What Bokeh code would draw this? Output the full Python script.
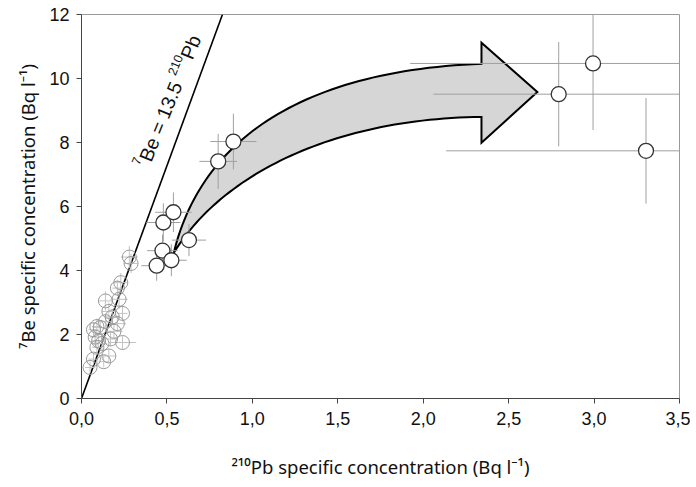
import math
import numpy as np
from bokeh.plotting import figure
from bokeh.models import Range1d, FixedTicker, Label, ColumnDataSource
from bokeh.embed import file_html
from bokeh.resources import INLINE

# ---- data ----
# small early samples (grey circles)
pb_cluster = [0.28, 0.29, 0.23, 0.21, 0.14, 0.22, 0.16, 0.24, 0.21, 0.09, 0.07, 0.11, 0.08,
              0.17, 0.24, 0.09, 0.16, 0.07, 0.05, 0.14, 0.19, 0.12, 0.10, 0.18, 0.13]
be_cluster = [4.42, 4.22, 3.62, 3.45, 3.05, 3.10, 2.72, 2.66, 2.34, 2.25, 2.15, 2.22, 1.92,
              1.86, 1.75, 1.60, 1.33, 1.23, 0.97, 2.40, 2.10, 1.72, 1.80, 2.55, 1.15]
pb_cluster_err = [0.05, 0.04, 0.04, 0.03, 0.04, 0.05, 0.04, 0.03, 0.05, 0.03, 0.03, 0.04, 0.03,
                  0.04, 0.08, 0.03, 0.04, 0.03, 0.03, 0.04, 0.05, 0.03, 0.04, 0.04, 0.03]
be_cluster_err = [0.35, 0.30, 0.30, 0.25, 0.30, 0.30, 0.28, 0.25, 0.25, 0.25, 0.22, 0.22, 0.20,
                  0.22, 0.20, 0.20, 0.20, 0.18, 0.18, 0.25, 0.22, 0.20, 0.20, 0.25, 0.18]

# later samples (black circles)
pb_main = [0.44, 0.474, 0.479, 0.526, 0.538, 0.629, 0.80, 0.889, 2.793, 2.994, 3.304]
be_main = [4.15, 4.62, 5.50, 4.32, 5.82, 4.95, 7.41, 8.03, 9.51, 10.47, 7.74]
pb_main_err = [0.09, 0.09, 0.10, 0.09, 0.107, 0.10, 0.11, 0.135, 0.733, 1.07, 1.17]
be_main_err = [0.47, 0.50, 0.60, 0.50, 0.62, 0.50, 0.86, 0.87, 1.63, 2.08, 1.65]

# reference line 7Be = 13.5 210Pb (as drawn)
ref_line_x = [0.0, 0.825]
ref_line_y = [0.0, 12.0]

x_ticks = [0.0, 0.5, 1.0, 1.5, 2.0, 2.5, 3.0, 3.5]
x_tick_labels = ["0,0", "0,5", "1,0", "1,5", "2,0", "2,5", "3,0", "3,5"]
y_ticks = [0, 2, 4, 6, 8, 10, 12]

x_title = "\u00b2\u00b9\u2070Pb specific concentration (Bq l\u207b\u00b9)"
y_title = "\u2077Be specific concentration (Bq l\u207b\u00b9)"

FONT = "Liberation Sans"
TITLE_FONT = "Noto Sans"
W, H = 690, 482
FS = 19.5      # main text size of the line label
SS = 12.5      # superscript size
RAISE = 7.5    # superscript raise

p = figure(width=W, height=H, output_backend="svg", toolbar_location=None,
           x_range=Range1d(0, 3.5), y_range=Range1d(0, 12),
           min_border_left=81, min_border_right=W - 679, min_border_top=14,
           min_border_bottom=H - 398)
p.grid.visible = False
p.outline_line_color = "#9a9a9a"
p.outline_line_width = 1

# ---- arrow annotation (decorative shape) ----
def bez(p0, p1, p2, p3, n=60):
    t = np.linspace(0, 1, n)[:, None]
    pts = ((1 - t) ** 3) * np.array(p0) + 3 * ((1 - t) ** 2) * t * np.array(p1) \
        + 3 * (1 - t) * t ** 2 * np.array(p2) + t ** 3 * np.array(p3)
    return pts[:, 0], pts[:, 1]

tail = (0.540, 4.55)
ux, uy = bez(tail, (0.698, 8.05), (1.282, 10.24), (2.341, 10.46))
lx, ly = bez(tail, (0.815, 6.96), (1.458, 8.74), (2.341, 8.80))
ax = list(ux) + [2.341, 2.668, 2.341] + list(lx[::-1])
ay = list(uy) + [11.12, 9.58, 7.99] + list(ly[::-1])
p.patch(ax, ay, fill_color="#d6d6d6", line_color="black", line_width=2, line_join="miter")

# reference line
p.line(ref_line_x, ref_line_y, line_color="black", line_width=1.6)

# error bars
def err_source(xs, ys, xe, ye):
    xs, ys, xe, ye = map(np.asarray, (xs, ys, xe, ye))
    return ColumnDataSource(dict(x=xs, y=ys, x0=xs - xe, x1=xs + xe, y0=ys - ye, y1=ys + ye))

src_c = err_source(pb_cluster, be_cluster, pb_cluster_err, be_cluster_err)
src_m = err_source(pb_main, be_main, pb_main_err, be_main_err)

for src, col in ((src_c, "#c4c4c4"), (src_m, "#a0a0a0")):
    p.segment(x0="x0", y0="y", x1="x1", y1="y", source=src, line_color=col, line_width=1)
    p.segment(x0="x", y0="y0", x1="x", y1="y1", source=src, line_color=col, line_width=1)

p.scatter("x", "y", source=src_c, size=14, marker="circle", fill_alpha=0,
          line_color="#9a9a9a", line_width=1)
p.scatter("x", "y", source=src_m, size=15, marker="circle", fill_color="white",
          line_color="#333333", line_width=1.3)

# ---- line label with superscripts, laid out with Arial/Liberation metrics ----
ARIAL = {" ": 278, "P": 667, "B": 667, "b": 556, "=": 584, ".": 278}

def text_width(s, size):
    return sum(ARIAL.get(ch, 556) for ch in s) * size / 1000.0

def rich_text(pieces, x, y, angle_deg):
    a = math.radians(angle_deg)
    adv = 0.0
    for t, s, r in pieces:
        dx = adv * math.cos(a) - r * math.sin(a)
        dy = adv * math.sin(a) + r * math.cos(a)
        p.add_layout(Label(x=x, y=y, x_offset=dx, y_offset=dy,
                           text=t, angle=a, angle_units="rad", text_align="left",
                           text_baseline="alphabetic", text_font=FONT,
                           text_font_size=f"{s}px", text_color="#111111"))
        adv += text_width(t, s)

rich_text([("7", SS, RAISE), ("Be = 13.5 ", FS, 0), ("210", SS, RAISE), ("Pb", FS, 0)],
          0.355, 7.24, 68)

# axes
p.xaxis.ticker = FixedTicker(ticks=x_ticks)
p.xaxis.major_label_overrides = {t: l for t, l in zip(x_ticks, x_tick_labels)}
p.yaxis.ticker = FixedTicker(ticks=y_ticks)
for axis in (p.xaxis, p.yaxis):
    axis.axis_line_color = "#444444"
    axis.major_tick_line_color = "#444444"
    axis.major_tick_in = 0
    axis.major_tick_out = 5
    axis.minor_tick_line_color = None
    axis.major_label_text_font = FONT
    axis.major_label_text_font_size = "18px"
    axis.major_label_text_color = "#111111"
    axis.axis_label_text_font = TITLE_FONT
    axis.axis_label_text_font_size = "18.5px"
    axis.axis_label_text_font_style = "normal"
    axis.axis_label_text_color = "#111111"

p.xaxis.axis_label = x_title
p.yaxis.axis_label = y_title
p.xaxis.major_label_standoff = 8
p.yaxis.major_label_standoff = 7
p.xaxis.axis_label_standoff = 26
p.yaxis.axis_label_standoff = 6

open("out.html", "w").write(file_html(p, INLINE))
